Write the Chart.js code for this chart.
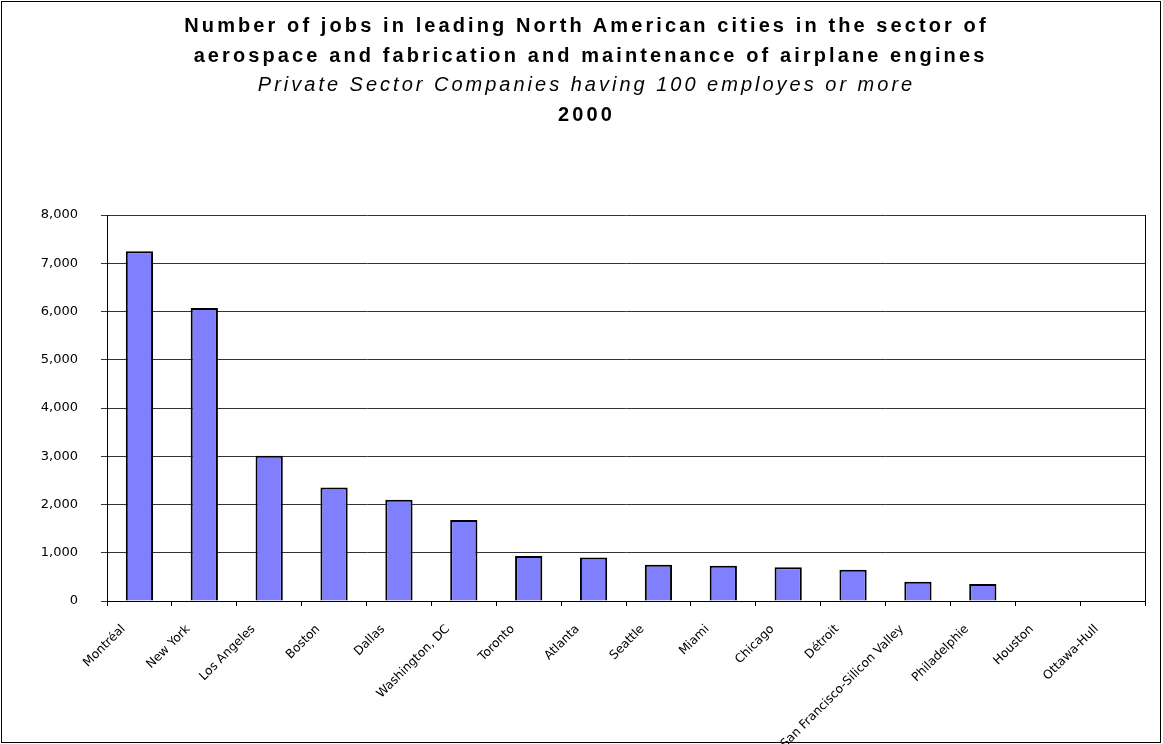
<!DOCTYPE html>
<html>
<head>
<meta charset="utf-8">
<script src="https://cdn.jsdelivr.net/npm/chart.js@4.4.0/dist/chart.umd.min.js"></script>
<style>
  body { margin: 0; background: #fff; }
  #frame { position: absolute; left: 1px; top: 1px; width: 1158px; height: 740px; border: 1px solid #000; }
  #chartTitle { position: absolute; left: 5px; top: 11px; width: 1163px; text-align: center;
    font-family: "Liberation Sans", Arial, sans-serif; font-size: 20px; line-height: 29.5px; color: #000; }
  #chartTitle .b { font-weight: bold; letter-spacing: 3.1px; }
  #chartTitle .i { font-style: italic; letter-spacing: 3px; }
  canvas { position: absolute; left: 0; top: 0; }
</style>
</head>
<body>
<div id="frame"></div>
<canvas id="jobsChart" width="1163" height="744"></canvas>
<div id="chartTitle">
  <div class="b">Number of jobs in leading North American cities in the sector of</div>
  <div class="b" style="padding-left:8px">aerospace and fabrication and maintenance of airplane engines</div>
  <div class="i">Private Sector Companies having 100 employes or more</div>
  <div class="b">2000</div>
</div>
<script>
var cities = ["Montréal", "New York", "Los Angeles", "Boston", "Dallas", "Washington, DC",
  "Toronto", "Atlanta", "Seattle", "Miami", "Chicago", "Détroit",
  "San Francisco-Silicon Valley", "Philadelphie", "Houston", "Ottawa-Hull"];
var jobs = [7250, 6070, 3010, 2350, 2100, 1680, 935, 900, 750, 730, 700, 650, 400, 350, 0, 0];
var yTicks = [0, 1000, 2000, 3000, 4000, 5000, 6000, 7000, 8000];

// right border of the plot area
var plotFrame = {
  id: "plotFrame",
  afterDraw: function (chart) {
    var a = chart.chartArea;
    var ctx = chart.ctx;
    ctx.save();
    ctx.strokeStyle = "#000";
    ctx.lineWidth = 1;
    ctx.beginPath();
    ctx.moveTo(Math.round(a.right) + 0.5, a.top);
    ctx.lineTo(Math.round(a.right) + 0.5, a.bottom);
    ctx.stroke();
    ctx.restore();
  }
};

var ctx = document.getElementById("jobsChart").getContext("2d");
var myChart = new Chart(ctx, {
  type: "bar",
  data: {
    labels: cities,
    datasets: [{
      data: jobs,
      backgroundColor: "#8080FF",
      borderColor: "#000",
      borderWidth: 2,
      barPercentage: 0.42,
      categoryPercentage: 1
    }]
  },
  options: {
    responsive: false,
    animation: false,
    layout: { padding: { top: 215, right: 18, left: 0, bottom: 0 } },
    plugins: {
      legend: { display: false },
      tooltip: { enabled: false }
    },
    scales: {
      x: {
        afterFit: function (scale) { scale.height = 143; },
        grid: { display: true, drawOnChartArea: false, offset: true, color: "#000", tickLength: 5 },
        border: { color: "#000", width: 1 },
        ticks: {
          autoSkip: false, minRotation: 45, maxRotation: 45, color: "#000",
          padding: 16, labelOffset: -16,
          font: { family: "DejaVu Sans", size: 12.2 }
        }
      },
      y: {
        min: 0,
        max: 8000,
        afterFit: function (scale) { scale.width = 107; },
        afterBuildTicks: function (scale) {
          scale.ticks = yTicks.map(function (v) { return { value: v }; });
        },
        grid: { color: "#333", tickLength: 6 },
        border: { color: "#000", width: 1 },
        ticks: {
          padding: 23, color: "#000",
          font: { family: "DejaVu Sans", size: 13 },
          callback: function (v) { return v.toLocaleString("en-US"); }
        }
      }
    }
  },
  plugins: [plotFrame]
});
</script>
</body>
</html>
